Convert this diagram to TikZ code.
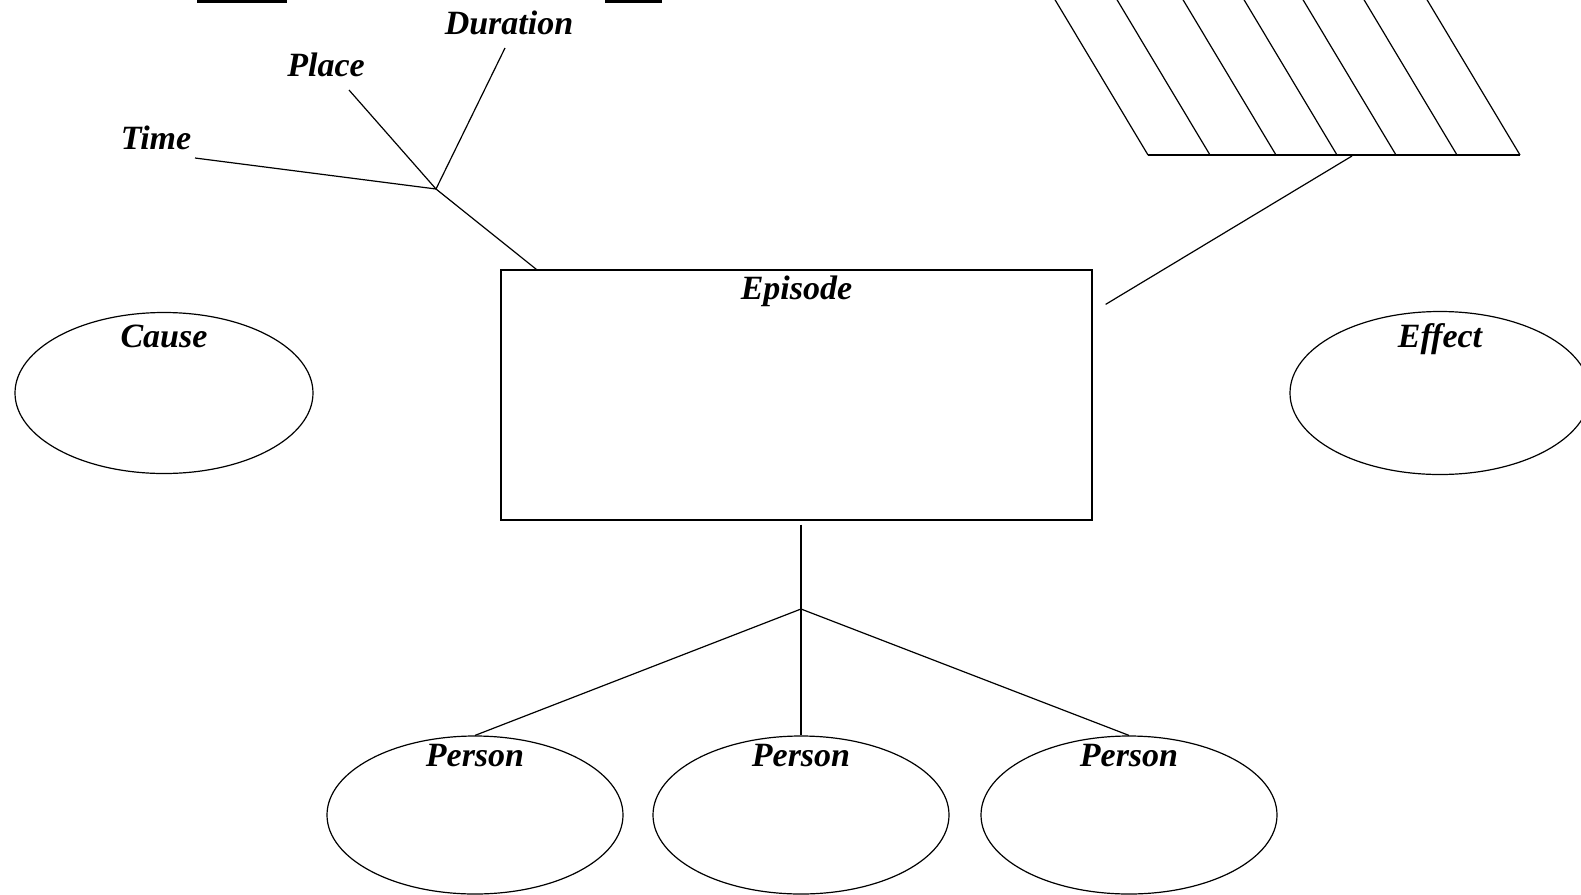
\documentclass[tikz,border=0pt]{standalone}
\usepackage{fontspec}
\setmainfont{Liberation Serif}
\usetikzlibrary{positioning,shapes.geometric}

\tikzset{
  lbl/.style={font=\fontsize{17}{20}\selectfont\bfseries\itshape, inner sep=0pt},
  oval/.style={draw, ellipse, inner sep=0pt, minimum width=148pt, minimum height=80pt},
}

\begin{document}
\begin{tikzpicture}[x=0.5pt,y=-0.5pt,line width=0.6pt]
        \clip (0,0) rectangle (1581,895);

        % the two black bars at the top edge
        \fill (197,0) rectangle (287,3);
        \fill (605,0) rectangle (662,3);

        % time, place and duration
        \node[lbl] (duration) at (509,23) {Duration};
        \node[lbl] (place) at (326,65) {Place};
        \node[lbl] (time) at (156,138) {Time};
        \coordinate (fork) at (436,189);
        \coordinate (durend) at (505,48);
        \coordinate (placeend) at (349,90);
        \coordinate (timeend) at (195,158);
        \draw (durend) -- (fork);
        \draw (placeend) -- (fork);
        \draw (timeend) -- (fork);

        % the episode box
        \node[draw, inner sep=0pt, minimum width=295.5pt, minimum height=125pt] (episode) at (796.5,395) {};
        \node[lbl, below=3pt of episode.north] {Episode};
        \draw (fork) -- ([xshift=18pt]episode.north west);

        % the hatched block on the right
        \coordinate (hatchl) at (1148,155);
        \coordinate (hatchr) at (1520,155);
        \draw (hatchl) -- (hatchr);
        \foreach \x in {1148,1210,1276,1337,1396,1457,1520}
          \draw (\x,155) -- ++(-100,-167);
        \coordinate (hatchin) at (1352,156);
        \draw ([shift={(6.5pt,-17.5pt)}]episode.north east) -- (hatchin);

        % cause and effect
        \node[oval, minimum width=149pt, minimum height=80.5pt] (cause) at (164,393) {};
        \node[lbl, below=6pt of cause.north] {Cause};
        \node[oval, minimum width=150pt, minimum height=81.5pt] (effect) at (1440,393) {};
        \node[lbl, below=6pt of effect.north] {Effect};

        % the persons
        \coordinate (hub) at (801,609);
        \draw ([yshift=-2pt]hub |- episode.south) -- (hub);
        \foreach \n/\x in {pa/475,pb/801,pc/1129} {
          \node[oval, minimum height=79pt] (\n) at (\x,815) {};
          \node[lbl, below=4pt of \n.north] {Person};
          \draw (hub) -- (\n.north);
        }
\end{tikzpicture}
\end{document}
